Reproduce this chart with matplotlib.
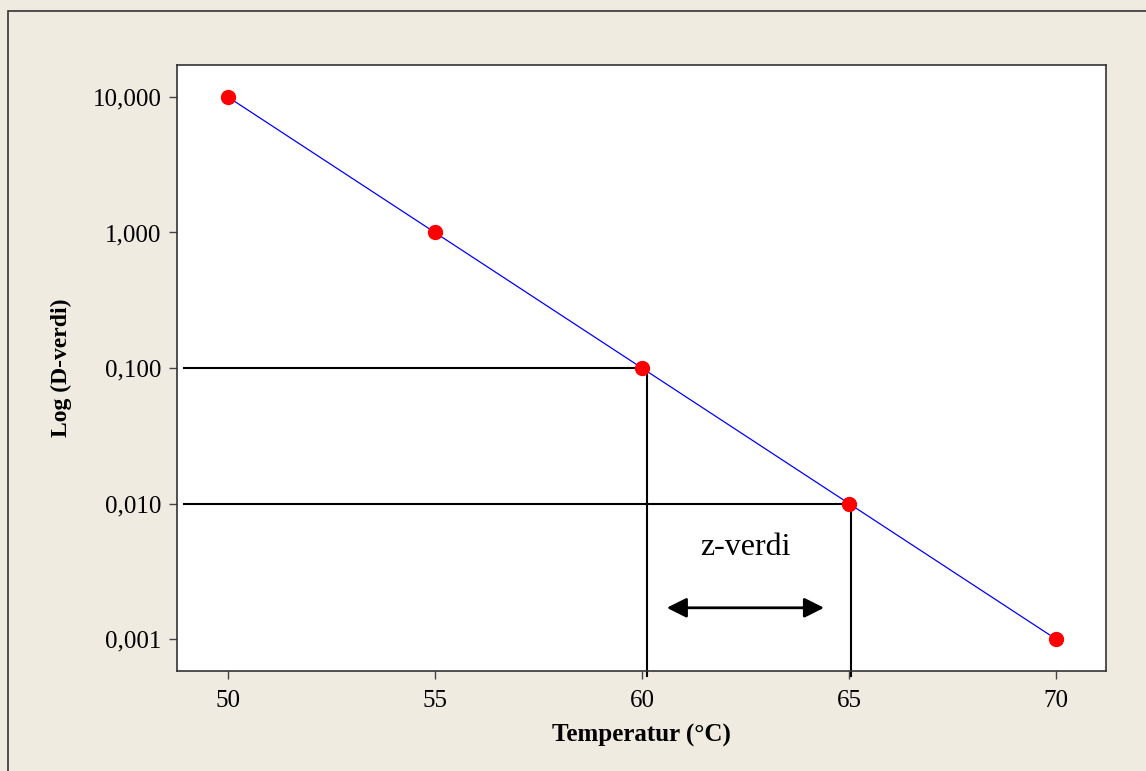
import matplotlib
matplotlib.use("Agg")
import matplotlib.pyplot as plt
from matplotlib.patches import Rectangle

# data
temps = [50, 55, 60, 65, 70]
d_values = [10, 1, 0.1, 0.01, 0.001]
ytick_vals = [0.001, 0.01, 0.1, 1, 10]
ytick_labels = ["0,001", "0,010", "0,100", "1,000", "10,000"]
xtick_vals = [50, 55, 60, 65, 70]

# guide lines (hand placed in the original)
guide_x = [60.12, 65.05]
guide_y = [0.1, 0.01]
arrow_x = (60.6, 64.4)
arrow_y = 0.0017

plt.rcParams["font.family"] = ["Liberation Serif", "DejaVu Serif"]

bg = "#EFEBE1"
fig = plt.figure(figsize=(11.46, 7.71), dpi=100, facecolor=bg)
fig.patches.append(Rectangle((8 / 1146, -0.1), 1.2, 1 - 11 / 771 + 0.1,
                             transform=fig.transFigure, fill=False,
                             edgecolor="#333333", linewidth=1.2))

ax = fig.add_axes([177 / 1146, 1 - 671 / 771, (1106 - 177) / 1146, (671 - 65) / 771])
ax.set_facecolor("white")
ax.set_yscale("log")

ax.plot(temps, d_values, color="blue", linewidth=0.9, zorder=3)
ax.plot(temps, d_values, linestyle="none", marker="o", markersize=10,
        color="red", zorder=4)

# horizontal and vertical guides
x_left = 48.93
for gx, gy in zip(guide_x, guide_y):
    ax.plot([x_left, gx], [gy, gy], color="black", linewidth=1.5, zorder=2)
    ax.plot([gx, gx], [gy, 5.3e-4], color="black", linewidth=1.5,
            zorder=2, clip_on=False)

ax.annotate("", xy=(arrow_x[0], arrow_y), xytext=(arrow_x[1], arrow_y),
            arrowprops=dict(arrowstyle="<|-|>", color="black", lw=2,
                            mutation_scale=30, shrinkA=0, shrinkB=0))
ax.text(62.49, 0.0047, "z-verdi", fontsize=23, ha="center", va="center")

ax.set_xlim(48.77, 71.21)
ax.set_ylim(10 ** -3.236, 10 ** 1.236)
ax.set_xticks(xtick_vals)
ax.set_xticklabels([str(v) for v in xtick_vals])
ax.set_yticks(ytick_vals)
ax.set_yticklabels(ytick_labels)
ax.yaxis.set_minor_locator(matplotlib.ticker.NullLocator())
ax.tick_params(axis="both", direction="out", length=6, width=1,
               color="#444444", labelsize=18)
ax.tick_params(axis="x", pad=8)
ax.tick_params(axis="y", pad=5)

for s in ax.spines.values():
    s.set_color("#333333")
    s.set_linewidth(1.2)

ax.set_xlabel("Temperatur (°C)", fontsize=18, fontweight="bold", labelpad=8)
ax.set_ylabel("Log (D-verdi)", fontsize=17, fontweight="bold", labelpad=15)

fig.savefig("out.png", dpi=100, facecolor=bg)
